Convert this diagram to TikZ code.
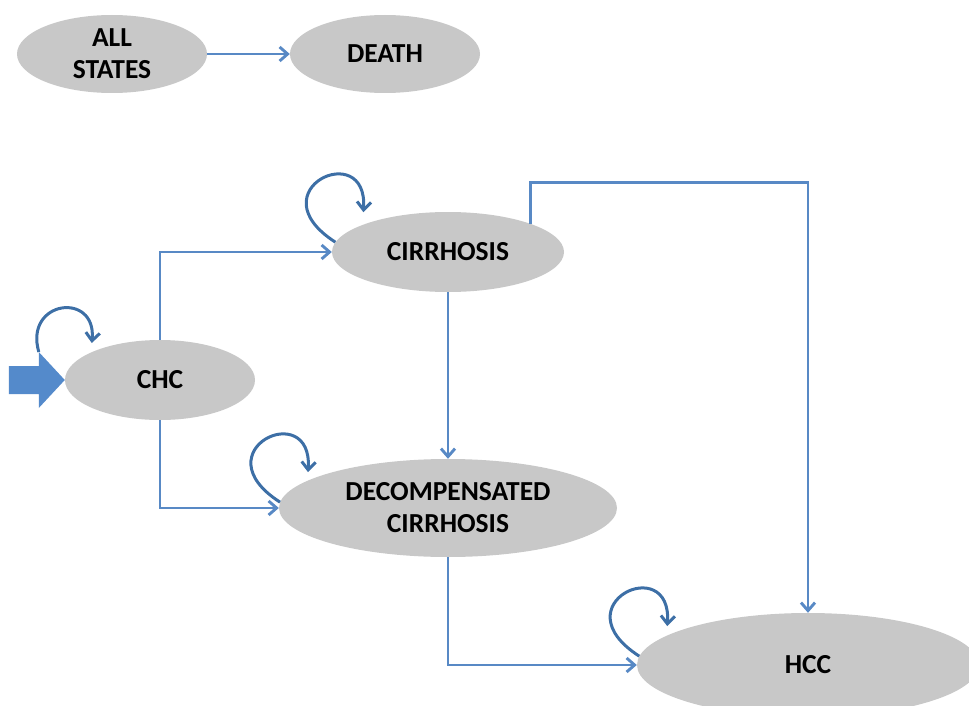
\documentclass[tikz,border=0pt]{standalone}
\usepackage{fontspec}
\setmainfont{Carlito}
\usetikzlibrary{arrows.meta,calc,shapes.geometric}
\definecolor{ellfill}{RGB}{200,200,200}
\definecolor{lineblue}{RGB}{88,137,197}
\definecolor{loopblue}{RGB}{61,111,166}
\definecolor{bigblue}{RGB}{84,138,203}
\begin{document}
\begin{tikzpicture}[x=1pt,y=1pt,
  state/.style={ellipse, fill=ellfill, inner sep=0pt, align=center,
    font=\fontsize{27.5}{32}\selectfont\bfseries},
  conn/.style={draw=lineblue, line width=2.9pt,
    -{Straight Barb[length=8pt,width=14pt]}},
  selfloop/.style={draw=loopblue, line width=3pt,
    -{Straight Barb[length=8pt,width=14pt]}}
]
\useasboundingbox (0,0) rectangle (969,-706);
\clip (0,0) rectangle (969,-706);

% nodes
\node[state, minimum width=190, minimum height=78] (all) at (112,-54) {ALL\\STATES};
\node[state, minimum width=190, minimum height=78] (death) at (385,-54) {DEATH};
\node[state, minimum width=190, minimum height=80] (chc) at (160,-380) {CHC};
\node[state, minimum width=232, minimum height=80] (cir) at (448,-252) {CIRRHOSIS};
\node[state, minimum width=338, minimum height=98] (dec) at (448,-508) {DECOMPENSATED\\CIRRHOSIS};
\node[state, minimum width=342, minimum height=104] (hcc) at (808,-665) {HCC};

% connectors
\draw[conn] (all) -- (death);
\draw[conn] (chc.north) |- (cir.west);
\draw[conn] (chc.south) |- (dec.west);
\draw[conn] (cir.south) -- (dec.north);
\draw[conn] (cir.north east) -- ++(0,41) -| (hcc.north);
\draw[conn] (dec.south) |- (hcc.west);

% entry arrow
\fill[bigblue] (chc.west) -- ++(-26,28) -- ++(0,-14) -- ++(-30,0) -- ++(0,-28)
  -- ++(30,0) -- ++(0,-14) -- cycle;
\coordinate (chcA) at ($(chc.west)+(-26,28)$);

% self loops
\draw[selfloop] (chcA) .. controls ($(chcA)+(-15,52)$) and ($(chcA)+(58,61)$) .. ($(chcA)+(53,9)$);
\coordinate (cirA) at (cir.175);
\draw[selfloop] (cirA) .. controls ($(cirA)+(-81,52)$) and ($(cirA)+(33,105)$) .. ($(cirA)+(28,30)$);
\coordinate (decA) at (dec.178);
\draw[selfloop] (decA) .. controls ($(decA)+(-81,52)$) and ($(decA)+(33,105)$) .. ($(decA)+(28,30)$);
\coordinate (hccA) at (hcc.177);
\draw[selfloop] (hccA) .. controls ($(hccA)+(-81,52)$) and ($(hccA)+(33,105)$) .. ($(hccA)+(28,30)$);
\end{tikzpicture}
\end{document}
